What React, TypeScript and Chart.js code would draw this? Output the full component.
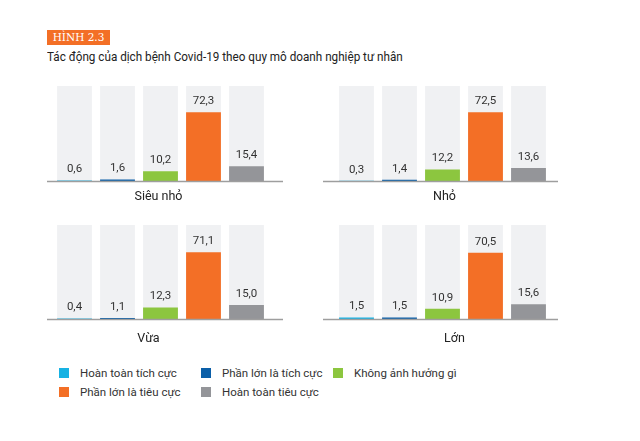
import React, { useEffect, useRef } from "react";
import { Chart, registerables } from "chart.js";

Chart.register(...registerables);

const FONT = "Roboto, 'Noto Sans', sans-serif";

const categories = [
  "Hoàn toàn tích cực",
  "Phần lớn là tích cực",
  "Không ảnh hưởng gì",
  "Phần lớn là tiêu cực",
  "Hoàn toàn tiêu cực",
];
const colors = ["#17b2e3", "#0b5fa8", "#8cc63f", "#f36f26", "#949599"];
const bgColor = "#f0f1f3";
const totalValues = [100, 100, 100, 100, 100];

const sieuNhoValues = [0.6, 1.6, 10.2, 72.3, 15.4];
const nhoValues = [0.3, 1.4, 12.2, 72.5, 13.6];
const vuaValues = [0.4, 1.1, 12.3, 71.1, 15.0];
const lonValues = [1.5, 1.5, 10.9, 70.5, 15.6];

const panelTitles = ["Siêu nhỏ", "Nhỏ", "Vừa", "Lớn"];

type PanelDef = {
  title: string;
  values: number[];
  left: number;
  top: number;
  width: number;
  height: number;
  pad: { left: number; right: number; top: number; bottom: number };
  axisExt: [number, number];
  labelOffset: [number, number];
};

const panels: PanelDef[] = [
  {
    title: panelTitles[0],
    values: sieuNhoValues,
    left: 40, top: 70, width: 260, height: 140,
    pad: { left: 13, right: 32, top: 16, bottom: 29 },
    axisExt: [6, 15],
    labelOffset: [-2, 16],
  },
  {
    title: panelTitles[1],
    values: nhoValues,
    left: 310, top: 70, width: 270, height: 140,
    pad: { left: 25, right: 30, top: 16, bottom: 29 },
    axisExt: [12, 8],
    labelOffset: [2, 16],
  },
  {
    title: panelTitles[2],
    values: vuaValues,
    left: 40, top: 210, width: 260, height: 140,
    pad: { left: 13, right: 32, top: 15, bottom: 31 },
    axisExt: [6, 15],
    labelOffset: [-12, 20],
  },
  {
    title: panelTitles[3],
    values: lonValues,
    left: 310, top: 210, width: 270, height: 140,
    pad: { left: 25, right: 30, top: 15, bottom: 31 },
    axisExt: [12, 8],
    labelOffset: [12, 20],
  },
];

const panelPlugin = {
  id: "panelDecor",
  afterDatasetsDraw(chart: any) {
    const opts = chart.options.plugins.panelDecor;
    const { ctx, chartArea } = chart;
    ctx.save();
    // axis line
    ctx.strokeStyle = "#9e9e9e";
    ctx.lineWidth = 1.5;
    ctx.beginPath();
    const y = chartArea.bottom + 0.5;
    ctx.moveTo(chartArea.left - opts.axisExt[0], y);
    ctx.lineTo(chartArea.right + opts.axisExt[1], y);
    ctx.stroke();
    // value labels
    const meta = chart.getDatasetMeta(0);
    ctx.fillStyle = "#333333";
    ctx.font = `11.5px ${FONT}`;
    ctx.textAlign = "center";
    ctx.textBaseline = "middle";
    meta.data.forEach((el: any, i: number) => {
      const v = chart.data.datasets[0].data[i] as number;
      ctx.fillText(v.toFixed(1).replace(".", ","), el.x, el.y - 11);
    });
    // panel title
    ctx.font = `12.5px ${FONT}`;
    ctx.fillStyle = "#222222";
    ctx.fillText(
      opts.title,
      (chartArea.left + chartArea.right) / 2 + opts.labelOffset[0],
      chartArea.bottom + opts.labelOffset[1]
    );
    ctx.restore();
  },
};

function Panel({ def }: { def: PanelDef }) {
  const ref = useRef<HTMLCanvasElement>(null);
  useEffect(() => {
    if (!ref.current) return;
    const chart = new Chart(ref.current, {
      type: "bar",
      data: {
        labels: categories,
        datasets: [
          {
            data: def.values,
            backgroundColor: colors,
            order: 1,
            grouped: false,
            barPercentage: 0.81,
            categoryPercentage: 1,
          },
          {
            data: totalValues,
            backgroundColor: bgColor,
            order: 2,
            grouped: false,
            barPercentage: 0.81,
            categoryPercentage: 1,
          },
        ],
      },
      options: {
        animation: false,
        responsive: false,
        maintainAspectRatio: false,
        layout: { padding: def.pad },
        scales: {
          x: { display: false },
          y: { display: false, min: 0, max: 100 },
        },
        plugins: {
          legend: { display: false },
          tooltip: { enabled: false },
          panelDecor: {
            title: def.title,
            axisExt: def.axisExt,
            labelOffset: def.labelOffset,
          },
        } as any,
      },
      plugins: [panelPlugin],
    });
    return () => chart.destroy();
  }, [def]);
  return (
    <canvas
      ref={ref}
      width={def.width}
      height={def.height}
      style={{
        position: "absolute",
        left: def.left,
        top: def.top,
        width: def.width,
        height: def.height,
      }}
    />
  );
}

const legendRows = [
  [0, 1, 2],
  [3, 4],
];
const legendCols = [59, 201, 333];
const legendRowY = [373, 392];

export default function App() {
  return (
    <div
      style={{
        position: "fixed",
        left: 0,
        top: 0,
        width: 640,
        height: 441,
        background: "#ffffff",
        fontFamily: FONT,
        overflow: "hidden",
      }}
    >
      <div
        style={{
          position: "absolute",
          left: 47,
          top: 30,
          width: 63,
          height: 15,
          background: "#f36f26",
          color: "#ffffff",
          fontFamily: "'DejaVu Serif', 'Liberation Serif', serif",
          fontSize: 10.5,
          lineHeight: "15px",
          textAlign: "center",
          whiteSpace: "nowrap",
        }}
      >
        HÌNH 2.3
      </div>
      <div
        style={{
          position: "absolute",
          left: 47,
          top: 49,
          fontSize: 13,
          lineHeight: "16px",
          color: "#222222",
          whiteSpace: "nowrap",
          transform: "scaleX(0.9)",
          transformOrigin: "left center",
        }}
      >
        Tác động của dịch bệnh Covid-19 theo quy mô doanh nghiệp tư nhân
      </div>
      {panels.map((p) => (
        <Panel key={p.title} def={p} />
      ))}
      {legendRows.map((row, r) =>
        row.map((ci, c) => (
          <div
            key={ci}
            style={{
              position: "absolute",
              left: legendCols[c],
              top: legendRowY[r] - 8,
              height: 16,
              display: "flex",
              alignItems: "center",
              whiteSpace: "nowrap",
              fontSize: 11.5,
              color: "#333333",
            }}
          >
            <span
              style={{
                display: "inline-block",
                width: 10,
                height: 10,
                background: colors[ci],
                marginRight: 11,
              }}
            />
            {categories[ci]}
          </div>
        ))
      )}
    </div>
  );
}
